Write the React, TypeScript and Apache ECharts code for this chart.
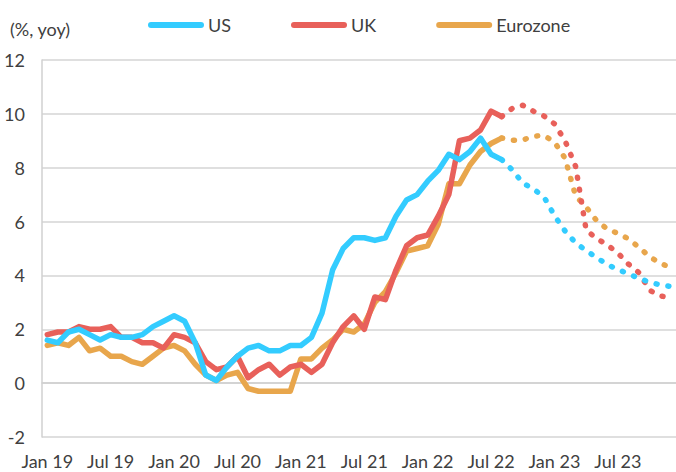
import React, { useEffect, useRef } from "react";
import * as echarts from "echarts";

const years = ["19", "20", "21", "22", "23"];
const monthNames = ["Jan", "Feb", "Mar", "Apr", "May", "Jun", "Jul", "Aug", "Sep", "Oct", "Nov", "Dec"];
const categories: string[] = years.flatMap((y) => monthNames.map((m) => `${m} ${y}`));

// Actual data Jan 19 - Aug 22
const usActual = [
  1.6, 1.5, 1.9, 2.0, 1.8, 1.6, 1.8, 1.7, 1.7, 1.8, 2.1, 2.3,
  2.5, 2.3, 1.5, 0.3, 0.1, 0.6, 1.0, 1.3, 1.4, 1.2, 1.2, 1.4,
  1.4, 1.7, 2.6, 4.2, 5.0, 5.4, 5.4, 5.3, 5.4, 6.2, 6.8, 7.0,
  7.5, 7.9, 8.5, 8.3, 8.6, 9.1, 8.5, 8.3,
];
const ukActual = [
  1.8, 1.9, 1.9, 2.1, 2.0, 2.0, 2.1, 1.7, 1.7, 1.5, 1.5, 1.3,
  1.8, 1.7, 1.5, 0.8, 0.5, 0.6, 1.0, 0.2, 0.5, 0.7, 0.3, 0.6,
  0.7, 0.4, 0.7, 1.5, 2.1, 2.5, 2.0, 3.2, 3.1, 4.2, 5.1, 5.4,
  5.5, 6.2, 7.0, 9.0, 9.1, 9.4, 10.1, 9.9,
];
const ezActual = [
  1.4, 1.5, 1.4, 1.7, 1.2, 1.3, 1.0, 1.0, 0.8, 0.7, 1.0, 1.3,
  1.4, 1.2, 0.7, 0.3, 0.1, 0.3, 0.4, -0.2, -0.3, -0.3, -0.3, -0.3,
  0.9, 0.9, 1.3, 1.6, 2.0, 1.9, 2.2, 3.0, 3.4, 4.1, 4.9, 5.0,
  5.1, 5.9, 7.4, 7.4, 8.1, 8.6, 8.9, 9.1,
];

// Forecasts Sep 22 - Dec 23
const usForecast = [7.92, 7.43, 7.21, 6.92, 6.22, 5.65, 5.21, 4.92, 4.66, 4.4, 4.22, 4.06, 3.89, 3.75, 3.65, 3.59];
const ukForecast = [10.2, 10.32, 10.1, 9.92, 9.63, 9.0, 8.05, 5.68, 5.37, 5.13, 4.83, 4.42, 4.1, 3.45, 3.24, 3.17];
const ezForecast = [9.02, 9.03, 9.17, 9.2, 8.95, 8.35, 6.95, 6.54, 6.03, 5.72, 5.56, 5.36, 5.04, 4.7, 4.45, 4.3];

const yTicks = { min: -2, max: 12, interval: 2 };
const seriesNames = ["US", "UK", "Eurozone"];
const colors = ["#33CCFF", "#E8605A", "#E8A64C"];

function forecastSeries(actual: number[], fc: number[]) {
  const arr: (number | null)[] = categories.map(() => null);
  arr[actual.length - 1] = actual[actual.length - 1];
  fc.forEach((v, i) => {
    arr[actual.length + i] = v;
  });
  return arr;
}

export default function App() {
  const ref = useRef<HTMLDivElement>(null);
  useEffect(() => {
    document.body.style.margin = "0";
    if (!ref.current) return;
    const chart = echarts.init(ref.current, undefined, { renderer: "svg" });
    const actuals = [usActual, ukActual, ezActual];
    const forecasts = [usForecast, ukForecast, ezForecast];
    const font = "Lato, 'Noto Sans', sans-serif";
    const solid = seriesNames.map((name, i) => ({
      name,
      type: "line",
      data: actuals[i],
      showSymbol: false,
      symbol: "none",
      lineStyle: { color: colors[i], width: 5.5, join: "round", cap: "round" },
      itemStyle: { color: colors[i] },
      z: 3 - i,
    }));
    const dotted = seriesNames.map((name, i) => ({
      name: name + " forecast",
      type: "line",
      data: forecastSeries(actuals[i], forecasts[i]),
      showSymbol: false,
      symbol: "none",
      lineStyle: { color: colors[i], width: 5.5, type: [1, 11], cap: "round" },
      itemStyle: { color: colors[i] },
      z: 3 - i,
    }));
    chart.setOption({
      animation: false,
      textStyle: { fontFamily: font },
      grid: { left: 42, right: -4, top: 60, bottom: 35, containLabel: false },
      legend: {
        data: seriesNames,
        left: 143,
        top: 11,
        itemWidth: 56,
        itemHeight: 6,
        itemGap: 60,
        icon: "path://M3,0H53A3,3 0 0 1 53,6H3A3,3 0 0 1 3,0Z",
        textStyle: { fontSize: 18, color: "#404040", fontFamily: font, padding: [0, 0, 0, -1] },
      },
      graphic: [
        {
          type: "text",
          left: 10,
          top: 20,
          style: { text: "(%, yoy)", fontSize: 18, fill: "#404040", fontFamily: font },
        },
      ],
      xAxis: {
        type: "category",
        data: categories,
        boundaryGap: true,
        axisLine: { show: true, lineStyle: { color: "#D0D0D0", width: 1.5 } },
        axisTick: { show: false },
        axisLabel: { interval: 5, fontSize: 18, color: "#404040", margin: 15, fontFamily: font },
        splitLine: { show: false },
      },
      yAxis: {
        type: "value",
        min: yTicks.min,
        max: yTicks.max,
        interval: yTicks.interval,
        axisLine: { show: true, lineStyle: { color: "#D0D0D0", width: 1.5 } },
        axisTick: { show: false },
        axisLabel: { fontSize: 18, color: "#404040", margin: 17, fontFamily: font },
        splitLine: { show: true, lineStyle: { color: "#D4D4D4", width: 1.5 } },
      },
      series: [...solid, ...dotted],
    });
    return () => chart.dispose();
  }, []);
  return <div ref={ref} style={{ width: 676, height: 472 }} />;
}
